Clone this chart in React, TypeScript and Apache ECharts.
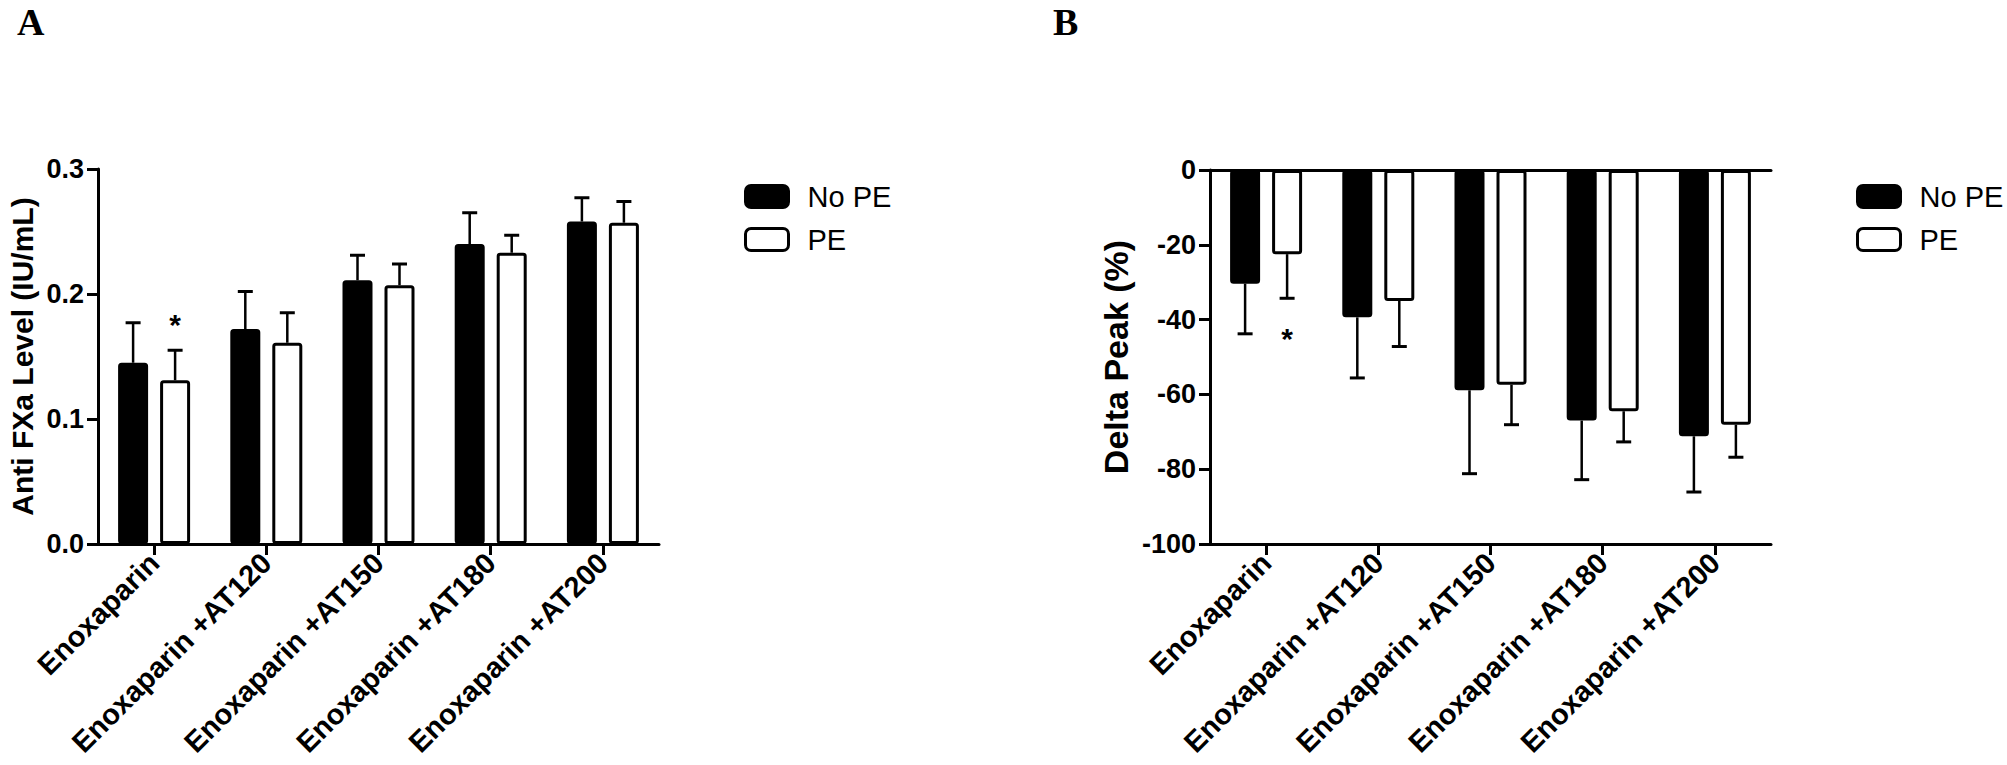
import React, { useEffect, useRef } from "react";
import * as echarts from "echarts";

// ---------- data ----------
const categories = [
  "Enoxaparin",
  "Enoxaparin +AT120",
  "Enoxaparin +AT150",
  "Enoxaparin +AT180",
  "Enoxaparin +AT200",
];
const seriesNames = ["No PE", "PE"];

// Panel A: Anti FXa Level (IU/mL), mean and SD
const antiFXaNoPE = [0.145, 0.172, 0.211, 0.24, 0.258];
const antiFXaNoPESD = [0.032, 0.03, 0.02, 0.025, 0.019];
const antiFXaPE = [0.131, 0.161, 0.207, 0.233, 0.257];
const antiFXaPESD = [0.024, 0.024, 0.017, 0.014, 0.017];
const antiFXaPEMarks = ["*", "", "", "", ""];
const antiFXaAxis = { min: 0, max: 0.3, interval: 0.1 };

// Panel B: Delta Peak (%), mean and SD
const deltaNoPE = [-30.4, -39.4, -58.9, -67.0, -71.2];
const deltaNoPESD = [13.4, 16.2, 22.3, 15.8, 14.9];
const deltaPE = [-22.5, -35.0, -57.4, -64.5, -68.1];
const deltaPESD = [11.8, 12.2, 10.7, 8.2, 8.7];
const deltaPEMarks = ["*", "", "", "", ""];
const deltaAxis = { min: -100, max: 0, interval: 20 };

const panelLetters = ["A", "B"];
const axisTitles = ["Anti FXa Level (IU/mL)", "Delta Peak (%)"];

// ---------- style ----------
const FONT = "'Liberation Sans', Arial, Helvetica, sans-serif";
const BAR_W = 30;
const BAR_GAP = 0.4;
const BAR_SHIFT = (BAR_W + BAR_W * BAR_GAP) / 2;
const CAP = 7.5;
const AXIS_W = 3;

function errorSeries(
  name: string,
  idx: number,
  means: number[],
  sds: number[],
  side: number,
  marks: string[],
  starOffset: number
) {
  return {
    type: "custom",
    name,
    xAxisIndex: idx === 0 ? 0 : 1,
    yAxisIndex: idx,
    z: 10,
    silent: true,
    clip: false,
    data: means.map((m, i) => [i, m, m + Math.sign(m) * sds[i]]),
    encode: { x: 0, y: [1, 2] },
    renderItem: (params: any, api: any) => {
      const i = api.value(0);
      const p0 = api.coord([i, api.value(1)]);
      const p1 = api.coord([i, api.value(2)]);
      const x = p0[0] + side * BAR_SHIFT;
      const children: any[] = [
        {
          type: "line",
          shape: { x1: x, y1: p0[1], x2: x, y2: p1[1] },
          style: { stroke: "#000", lineWidth: 2.5 },
        },
        {
          type: "line",
          shape: { x1: x - CAP, y1: p1[1], x2: x + CAP, y2: p1[1] },
          style: { stroke: "#000", lineWidth: 3 },
        },
      ];
      const mk = marks[i];
      if (mk) {
        children.push({
          type: "text",
          x,
          y: p1[1] + starOffset,
          style: {
            text: mk,
            fill: "#000",
            font: `bold 30px ${FONT}`,
            textAlign: "center",
            textVerticalAlign: "middle",
          },
        });
      }
      return { type: "group", children };
    },
  };
}

function barSeries(name: string, idx: number, values: number[], white: boolean) {
  return {
    type: "bar",
    name,
    xAxisIndex: idx === 0 ? 0 : 1,
    yAxisIndex: idx,
    data: values,
    barWidth: BAR_W,
    barGap: `${BAR_GAP * 100}%`,
    itemStyle: {
      color: white ? "#fff" : "#000",
      borderColor: "#000",
      borderWidth: 3,
      borderRadius: 2,
    },
  };
}

function categoryAxis(gridIndex: number) {
  return {
    type: "category",
    gridIndex,
    data: categories,
    position: "bottom",
    axisLine: { show: true, onZero: false, lineStyle: { color: "#000", width: AXIS_W } },
    axisTick: { show: true, alignWithLabel: true, length: 11, lineStyle: { color: "#000", width: AXIS_W } },
    axisLabel: {
      show: true,
      rotate: 45,
      interval: 0,
      margin: 14,
      color: "#000",
      fontFamily: FONT,
      fontWeight: "bold",
      fontSize: 29,
    },
    splitLine: { show: false },
  };
}

function valueAxis(gridIndex: number, range: any, title: string, gap: number, size: number, digits: number) {
  return {
    type: "value",
    gridIndex,
    min: range.min,
    max: range.max,
    interval: range.interval,
    name: title,
    nameLocation: "middle",
    nameRotate: 90,
    nameGap: gap,
    nameTextStyle: { color: "#000", fontFamily: FONT, fontWeight: "bold", fontSize: size },
    axisLine: { show: true, lineStyle: { color: "#000", width: AXIS_W } },
    axisTick: { show: true, length: 11, lineStyle: { color: "#000", width: AXIS_W } },
    axisLabel: {
      margin: 14,
      color: "#000",
      fontFamily: FONT,
      fontWeight: "bold",
      fontSize: 27,
      formatter: (v: number) => v.toFixed(digits),
    },
    splitLine: { show: false },
  };
}

function legendFor(left: number) {
  return {
    data: seriesNames,
    left,
    top: 177,
    orient: "vertical",
    icon: "roundRect",
    itemWidth: 43,
    itemHeight: 22,
    itemGap: 14,
    selectedMode: false,
    itemStyle: { borderColor: "#000", borderWidth: 3 },
    textStyle: { color: "#000", fontFamily: FONT, fontSize: 29, padding: [0, 0, 0, 14] },
  };
}

const letterFont = "bold 38px 'Liberation Serif', 'Times New Roman', serif";

export default function App() {
  const ref = useRef<HTMLDivElement>(null);
  useEffect(() => {
    if (!ref.current) return;
    const chart = echarts.init(ref.current, null, { renderer: "svg" });
    const option: any = {
      animation: false,
      backgroundColor: "#fff",
      grid: [
        { left: 98, top: 169, width: 561, height: 375, containLabel: false },
        { left: 1210, top: 170, width: 561, height: 374, containLabel: false },
      ],
      xAxis: [
        categoryAxis(0),
        categoryAxis(1),
        {
          type: "category",
          gridIndex: 1,
          data: categories,
          position: "top",
          axisLine: { show: true, onZero: false, lineStyle: { color: "#000", width: AXIS_W } },
          axisTick: { show: false },
          axisLabel: { show: false },
          splitLine: { show: false },
        },
      ],
      yAxis: [
        valueAxis(0, antiFXaAxis, axisTitles[0], 61, 30, 1),
        valueAxis(1, deltaAxis, axisTitles[1], 77, 34, 0),
      ],
      legend: [legendFor(739), legendFor(1851)],
      graphic: [
        {
          type: "text",
          left: 17,
          top: 3,
          style: { text: panelLetters[0], fill: "#000", font: letterFont },
        },
        {
          type: "text",
          left: 1053,
          top: 3,
          style: { text: panelLetters[1], fill: "#000", font: letterFont },
        },
      ],
      series: [
        barSeries(seriesNames[0], 0, antiFXaNoPE, false),
        barSeries(seriesNames[1], 0, antiFXaPE, true),
        errorSeries("No PE SD A", 0, antiFXaNoPE, antiFXaNoPESD, -1, ["", "", "", "", ""], 0),
        errorSeries("PE SD A", 0, antiFXaPE, antiFXaPESD, 1, antiFXaPEMarks, -26),
        barSeries(seriesNames[0], 1, deltaNoPE, false),
        barSeries(seriesNames[1], 1, deltaPE, true),
        errorSeries("No PE SD B", 1, deltaNoPE, deltaNoPESD, -1, ["", "", "", "", ""], 0),
        errorSeries("PE SD B", 1, deltaPE, deltaPESD, 1, deltaPEMarks, 40),
      ],
    };
    chart.setOption(option);
    return () => chart.dispose();
  }, []);
  return (
    <div
      ref={ref}
      style={{ position: "fixed", left: 0, top: 0, width: 2007, height: 765, background: "#fff" }}
    />
  );
}
